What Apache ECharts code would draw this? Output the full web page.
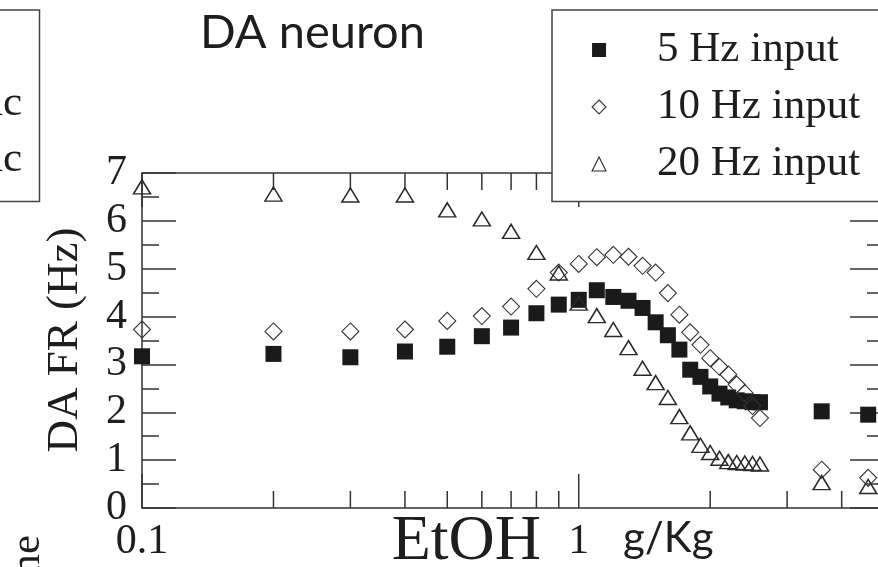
<!DOCTYPE html>
<html><head><meta charset="utf-8">
<script src="https://cdn.jsdelivr.net/npm/echarts@6/dist/echarts.min.js"></script>
<style>html,body{margin:0;padding:0;background:#fff}#c{width:878px;height:567px}</style>
</head><body><div id="c"></div>
<script>
// ---- data ----
const doses = [0.1,0.2,0.3,0.4,0.5,0.6,0.7,0.8,0.9,1.0,1.1,1.2,1.3,1.4,1.5,1.6,1.7,1.8,1.9,2.0,2.1,2.2,2.3,2.4,2.5,2.6,3.6,4.6];
const fr5Hz  = [3.17,3.22,3.15,3.27,3.37,3.59,3.77,4.07,4.25,4.35,4.55,4.41,4.33,4.18,3.88,3.61,3.31,2.89,2.74,2.54,2.39,2.31,2.25,2.23,2.21,2.21,2.02,1.95];
const fr10Hz = [3.73,3.69,3.69,3.73,3.91,4.01,4.21,4.58,4.92,5.10,5.24,5.29,5.25,5.06,4.92,4.49,4.04,3.67,3.41,3.13,2.95,2.79,2.58,2.40,2.13,1.88,0.80,0.63];
const fr20Hz = [6.71,6.56,6.54,6.54,6.23,6.04,5.78,5.34,4.91,4.28,4.02,3.73,3.35,2.92,2.62,2.31,1.91,1.57,1.31,1.16,1.04,0.97,0.95,0.94,0.93,0.92,0.53,0.45];
const seriesNames = ['5 Hz input','10 Hz input','20 Hz input'];
const xRange = [0.1, 5];
const yRange = [0, 7];
const xLabelValues = [0.1, 1];
const xMajorTicks = [0.1, 1];
const xMinorTicks = [0.2,0.3,0.4,0.5,0.6,0.7,0.8,0.9,2,3,4];
const leftPanelTexts = ['nc','nc'];

const AX = '#333';
const TXT = '#1e1e1e';
const SERIF = '"Liberation Serif","DejaVu Serif",serif';
const SANS = 'Lato,"Open Sans",sans-serif';

const chart = echarts.init(document.getElementById('c'), null, {renderer:'canvas'});

function tickSeries(values, len) {
  return {
    type: 'custom', silent: true, z: 3, clip: false,
    data: values.map(v => [v, yRange[0]]),
    encode: {x: 0, y: 1},
    renderItem: (params, api) => {
      const x = api.value(0);
      const b = api.coord([x, yRange[0]]);
      const t = api.coord([x, yRange[1]]);
      return {type: 'group', children: [
        {type: 'line', shape: {x1: b[0], y1: b[1], x2: b[0], y2: b[1] - len}, style: {stroke: AX, lineWidth: 1.5}},
        {type: 'line', shape: {x1: t[0], y1: t[1], x2: t[0], y2: t[1] + len}, style: {stroke: AX, lineWidth: 1.5}}
      ]};
    }
  };
}

const yAxisBase = {
  type: 'value', min: yRange[0], max: yRange[1], interval: 1,
  axisLine: {show: false},
  splitLine: {show: false},
  axisTick: {show: true, inside: true, length: 34, lineStyle: {color: AX, width: 1.5}},
  minorTick: {show: true, splitNumber: 2, length: 17, lineStyle: {color: AX, width: 1.5}}
};

const option = {
  animation: false,
  backgroundColor: '#fff',
  grid: {left: 142, top: 173, width: 742, height: 335, show: true, borderColor: AX, borderWidth: 1.5,
         backgroundColor: 'transparent', containLabel: false, outerBoundsMode: 'none'},
  xAxis: {
    type: 'log', logBase: 10, min: xRange[0], max: xRange[1],
    axisLine: {show: false}, splitLine: {show: false}, axisTick: {show: false},
    axisLabel: {
      margin: 13, color: TXT, fontFamily: SERIF, fontSize: 42,
      formatter: v => {
        for (const L of xLabelValues) if (Math.abs(v - L) < 1e-9) return String(L);
        return '';
      }
    }
  },
  yAxis: [
    Object.assign({}, yAxisBase, {position: 'left', axisLabel: {margin: 15, color: TXT, fontFamily: SERIF, fontSize: 42}}),
    Object.assign({}, yAxisBase, {position: 'right', axisLabel: {show: false}})
  ],
  legend: {
    data: seriesNames, orient: 'vertical', left: 552, top: 10,
    padding: [11.5, 25, 9, 39.5], itemGap: 0, itemWidth: 14, itemHeight: 14,
    backgroundColor: '#fff', borderColor: '#444', borderWidth: 1.5, borderRadius: 0,
    selectedMode: false, z: 10,
    itemStyle: {borderWidth: 1.1, opacity: 1},
    textStyle: {fontFamily: SERIF, fontSize: 43, color: TXT, lineHeight: 49, padding: [0, 0, 8, 46]}
  },
  series: [
    tickSeries(xMajorTicks, 34),
    tickSeries(xMinorTicks, 17),
    {
      name: seriesNames[0], type: 'scatter', symbol: 'rect', symbolSize: 16, z: 4,
      itemStyle: {color: '#1a1a1a', opacity: 1},
      data: doses.map((d, i) => [d, fr5Hz[i]])
    },
    {
      name: seriesNames[1], type: 'scatter', symbol: 'diamond', symbolSize: 17, z: 5,
      itemStyle: {color: 'rgba(255,255,255,0)', borderColor: '#333', borderWidth: 1.1, opacity: 1},
      data: doses.map((d, i) => [d, fr10Hz[i]])
    },
    {
      name: seriesNames[2], type: 'scatter', symbol: 'triangle', symbolSize: [17, 14], z: 5,
      itemStyle: {color: 'rgba(255,255,255,0)', borderColor: '#2a2a2a', borderWidth: 1.5, opacity: 1},
      data: doses.map((d, i) => [d, fr20Hz[i]])
    }
  ],
  graphic: [
    {type: 'text', left: 200, top: 9, style: {text: 'DA neuron', font: '47px ' + SANS, fill: TXT}},
    {type: 'rect', shape: {x: -60, y: 10, width: 99.5, height: 191.5}, style: {fill: 'none', stroke: '#444', lineWidth: 1.5}},
    {type: 'text', x: 22, y: 104, style: {text: leftPanelTexts[0], font: '43px ' + SERIF, fill: TXT, align: 'right', verticalAlign: 'middle'}},
    {type: 'text', x: 22, y: 160, style: {text: leftPanelTexts[1], font: '43px ' + SERIF, fill: TXT, align: 'right', verticalAlign: 'middle'}},
    {type: 'text', x: 65.3, y: 340, rotation: Math.PI / 2, style: {text: 'DA FR (Hz)', font: '45px ' + SERIF, fill: TXT, align: 'center', verticalAlign: 'middle'}},
    {type: 'text', x: 391.7, y: 542.2, style: {text: 'EtOH', font: '64px ' + SERIF, fill: TXT, align: 'left', verticalAlign: 'middle'}},
    {type: 'text', x: 623, y: 538.2, style: {text: 'g/Kg', font: '42px ' + SANS, fill: TXT, align: 'left', verticalAlign: 'middle'}},
    {type: 'text', x: 27.5, y: 535, rotation: Math.PI / 2, style: {text: 'Time', font: '43px ' + SERIF, fill: TXT, align: 'right', verticalAlign: 'middle'}}
  ]
};
chart.setOption(option);
</script>
</body></html>
